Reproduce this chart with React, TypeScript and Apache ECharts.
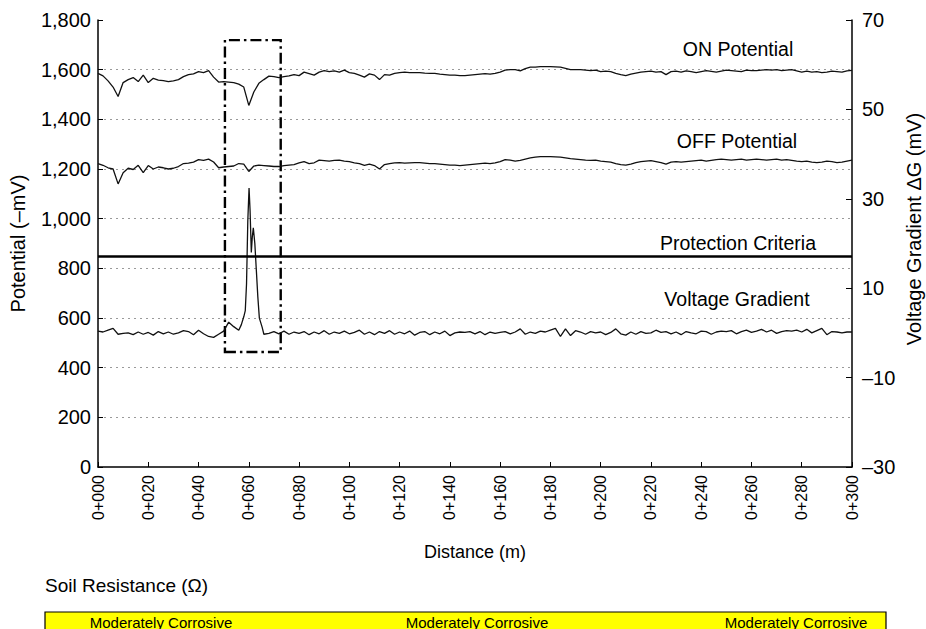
import React, { useEffect, useRef } from "react";
import * as echarts from "echarts";

// Survey stations along the pipeline, every 2 m from 0+000 to 0+300
const STATION_STEP_M = 2;
const DISTANCE_M: number[] = Array.from({ length: 151 }, (_, i) => i * STATION_STEP_M);

// ON potential (–mV) at each station
const ON_POTENTIAL = [
  1585, 1575, 1555, 1530, 1492, 1548, 1560, 1568, 1552, 1578,
  1548, 1565, 1558, 1556, 1552, 1555, 1560, 1572, 1580, 1583,
  1592, 1588, 1596, 1570, 1550, 1552, 1550, 1548, 1542, 1530,
  1456, 1510, 1545, 1560, 1574, 1572, 1568, 1572, 1575, 1580,
  1576, 1590, 1584, 1578, 1590, 1596, 1592, 1595, 1590, 1598,
  1588, 1585, 1578, 1570, 1583, 1578, 1560, 1580, 1578, 1585,
  1588, 1590, 1588, 1588, 1588, 1586, 1585, 1585, 1582, 1580,
  1578, 1578, 1576, 1576, 1578, 1580, 1582, 1584, 1582, 1585,
  1590, 1598, 1600, 1600, 1595, 1604, 1610, 1610, 1612, 1612,
  1612, 1611, 1610, 1605, 1600, 1600, 1600, 1598, 1596, 1598,
  1592, 1594, 1592, 1585, 1580, 1576, 1582, 1586, 1590, 1592,
  1594, 1590, 1592, 1580, 1592, 1594, 1590, 1595, 1592, 1588,
  1592, 1596, 1593, 1590, 1594, 1598, 1596, 1594, 1592, 1598,
  1596, 1596, 1598, 1600, 1598, 1600, 1596, 1598, 1600, 1595,
  1590, 1594, 1590, 1592, 1588, 1590, 1594, 1592, 1590, 1595,
  1597,
];

// OFF (instant-off) potential (–mV) at each station
const OFF_POTENTIAL = [
  1222, 1215, 1205, 1200, 1140, 1185, 1203, 1198, 1215, 1185,
  1214, 1200, 1208, 1205, 1200, 1203, 1210, 1222, 1224, 1228,
  1238, 1235, 1240, 1228, 1205, 1208, 1210, 1212, 1222, 1220,
  1190, 1212, 1216, 1214, 1212, 1210, 1210, 1214, 1216, 1218,
  1225, 1230, 1222, 1225, 1236, 1234, 1232, 1235, 1236, 1232,
  1230, 1225, 1222, 1215, 1220, 1214, 1200, 1218, 1222, 1225,
  1226, 1224, 1225, 1226, 1226, 1224, 1222, 1222, 1220, 1218,
  1216, 1216, 1214, 1216, 1218, 1220, 1222, 1224, 1222, 1225,
  1230, 1238, 1236, 1232, 1235, 1240, 1245, 1248, 1250, 1250,
  1250, 1249, 1248, 1245, 1242, 1240, 1238, 1236, 1235, 1236,
  1232, 1230, 1228, 1222, 1218, 1216, 1220, 1226, 1230, 1232,
  1234, 1230, 1226, 1220, 1228, 1230, 1228, 1230, 1232, 1234,
  1236, 1232, 1235, 1238, 1240, 1238, 1236, 1238, 1240, 1236,
  1238, 1240, 1238, 1236, 1238, 1240, 1236, 1238, 1235, 1232,
  1230, 1232, 1228, 1226, 1228, 1232, 1230, 1226, 1228, 1232,
  1236,
];

// Voltage gradient ΔG (mV) at each station; the coating-defect stations
// are sampled more finely below
const VOLTAGE_GRADIENT: (number | null)[] = [
  0.4, 0.2, 0.6, 1.0, -0.3, -0.1, 0.0, -0.4, 0.2, -0.3,
  0.1, -0.5, 0.3, -0.2, 0.2, -0.3, 0.0, 0.5, 0.3, -0.4,
  0.6, -0.2, -0.8, -1.0, -0.3, 0.4, 2.4, 1.4, 0.6, null,
  null, null, null, -0.3, -0.1, 0.3, -0.2, 0.4, -0.3, 0.2,
  -0.1, 0.3, -0.4, 0.2, -0.2, 0.5, -0.3, 0.2, -0.1, 0.4,
  -0.2, 0.1, 0.6, -0.3, 0.2, -0.4, 0.3, -0.1, 0.5, -0.3,
  0.2, -0.2, 0.4, -0.5, 0.1, 0.3, -0.4, 0.2, -0.2, 0.4,
  -0.6, 0.0, 0.2, 0.1, 0.3, -0.2, 0.3, -0.4, 0.2, -0.1,
  0.1, 0.3, -0.2, 0.2, 0.9, -0.3, 0.2, -0.1, 0.4, 0.2,
  0.6, 1.0, -0.8, 0.9, -0.6, 0.5, 0.2, -0.3, 0.3, 0.0,
  0.2, -0.4, 0.1, 0.9, -0.2, -0.5, 0.2, -0.3, 0.3, -0.1,
  0.0, 0.6, 0.1, 0.3, -0.2, 0.2, -0.4, 0.3, 0.0, -0.2,
  0.4, 0.3, -0.3, 0.2, 0.4, 0.3, 0.5, -0.2, 0.3, 0.6,
  0.1, 0.4, 0.8, 0.2, 0.6, -0.1, 0.3, 0.5, 0.4, 0.6,
  0.2, 0.8, 0.0, 0.5, 1.0, -0.4, 0.3, 0.2, 0.0, 0.2,
  0.2,
];

// Close-interval readings across the defect indication
const DEFECT_DISTANCE_M = [57, 58, 58.6, 59.1, 59.6, 60.1, 60.5, 61.0, 61.4, 61.8, 62.4, 63.0, 63.6, 64.2, 65.3];
const DEFECT_GRADIENT = [1.8, 3.6, 5.0, 11.0, 25.0, 32.4, 27.5, 18.0, 21.5, 23.5, 20.0, 14.0, 8.0, 3.3, 1.3];

// Protection criterion (–mV)
const PROTECTION_CRITERIA = 850;

// Highlighted defect zone: distance range (m) and potential range (–mV)
const DEFECT_ZONE_M = [50.5, 72.7];
const DEFECT_ZONE_MV = [463, 1719];

// Axis ticks
const DISTANCE_TICK_STEP = 20;
const POTENTIAL_TICK_STEP = 200;
const GRADIENT_TICKS = [-30, -10, 10, 30, 50, 70];

// Soil classification strip
const SOIL_CLASSES = ["Moderately Corrosive", "Moderately Corrosive", "Moderately Corrosive"];

const FONT = "'Liberation Sans', Arial, Helvetica, sans-serif";

function buildOption(): echarts.EChartsOption {
  const onData = DISTANCE_M.map((d, i) => [d, ON_POTENTIAL[i]]);
  const offData = DISTANCE_M.map((d, i) => [d, OFF_POTENTIAL[i]]);
  const vgData: number[][] = [];
  DISTANCE_M.forEach((d, i) => {
    const v = VOLTAGE_GRADIENT[i];
    if (v !== null) vgData.push([d, v]);
  });
  DEFECT_DISTANCE_M.forEach((d, i) => vgData.push([d, DEFECT_GRADIENT[i]]));
  vgData.sort((a, b) => a[0] - b[0]);

  const lineStyle = { color: "#111", width: 1.3 };

  const soilX = [161, 477, 796];
  const labelStyle = (text: string, size: number, align = "center") => ({
    text,
    font: `${size}px ${FONT}`,
    fill: "#000",
    textAlign: align,
    textVerticalAlign: "middle",
  });

  return {
    animation: false,
    backgroundColor: "#fff",
    textStyle: { fontFamily: FONT, color: "#000" },
    grid: { left: 98, right: 74, top: 20, bottom: 162 },
    xAxis: {
      type: "value",
      min: 0,
      max: 300,
      interval: DISTANCE_TICK_STEP,
      name: "Distance (m)",
      nameLocation: "middle",
      nameGap: 76,
      nameTextStyle: { fontSize: 18, color: "#000", fontFamily: FONT },
      axisLine: { lineStyle: { color: "#000", width: 1.5 } },
      axisTick: { inside: true, length: 5, lineStyle: { color: "#000", width: 1 } },
      axisLabel: {
        rotate: 90,
        fontSize: 16,
        color: "#000",
        margin: 8,
        fontFamily: FONT,
        formatter: (v: number) => `0+${String(v).padStart(3, "0")}`,
      },
      splitLine: { show: false },
    },
    yAxis: [
      {
        type: "value",
        min: 0,
        max: 1800,
        interval: POTENTIAL_TICK_STEP,
        name: "Potential (–mV)",
        nameLocation: "middle",
        nameGap: 70,
        nameTextStyle: { fontSize: 20, color: "#000", fontFamily: FONT },
        axisLine: { show: true, lineStyle: { color: "#000", width: 1.5 } },
        axisTick: { show: true, inside: true, length: 5, lineStyle: { color: "#000" } },
        axisLabel: {
          fontSize: 20,
          color: "#000",
          margin: 7,
          fontFamily: FONT,
          formatter: (v: number) => v.toLocaleString("en-US"),
        },
        splitLine: {
          show: true,
          showMinLine: false,
          showMaxLine: false,
          lineStyle: { color: "#9a9a9a", type: [2, 4], width: 1 },
        },
      },
      {
        type: "value",
        min: -30,
        max: 70,
        position: "right",
        axisLine: { show: true, lineStyle: { color: "#000", width: 1.5 } },
        axisTick: {
          show: true,
          inside: true,
          length: 6,
          customValues: GRADIENT_TICKS,
          lineStyle: { color: "#000" },
        },
        axisLabel: {
          fontSize: 20,
          color: "#000",
          margin: 10,
          fontFamily: FONT,
          customValues: GRADIENT_TICKS,
          formatter: (v: number) => (v < 0 ? `–${Math.abs(v)}` : `${v}`),
        },
        splitLine: { show: false },
      },
    ],
    series: [
      {
        name: "ON Potential",
        type: "line",
        yAxisIndex: 0,
        data: onData,
        showSymbol: false,
        lineStyle,
        markLine: {
          silent: true,
          symbol: "none",
          label: { show: false },
          lineStyle: { color: "#000", width: 2.6, type: "solid" },
          data: [{ yAxis: PROTECTION_CRITERIA }],
        },
        markArea: {
          silent: true,
          itemStyle: {
            color: "rgba(0,0,0,0)",
            borderColor: "#000",
            borderWidth: 2.4,
            borderType: [11, 4, 2.5, 4],
          },
          data: [
            [
              { xAxis: DEFECT_ZONE_M[0], yAxis: DEFECT_ZONE_MV[0] },
              { xAxis: DEFECT_ZONE_M[1], yAxis: DEFECT_ZONE_MV[1] },
            ],
          ],
        },
      },
      {
        name: "OFF Potential",
        type: "line",
        yAxisIndex: 0,
        data: offData,
        showSymbol: false,
        lineStyle,
      },
      {
        name: "Voltage Gradient",
        type: "line",
        yAxisIndex: 1,
        data: vgData,
        showSymbol: false,
        lineStyle,
      },
    ],
    graphic: [
      { type: "text", x: 738, y: 49, style: labelStyle("ON Potential", 19.5) },
      { type: "text", x: 737, y: 141, style: labelStyle("OFF Potential", 19.5) },
      { type: "text", x: 738, y: 243, style: labelStyle("Protection Criteria", 19.5) },
      { type: "text", x: 737, y: 299, style: labelStyle("Voltage Gradient", 19.5) },
      {
        type: "text",
        x: 914,
        y: 229,
        rotation: Math.PI / 2,
        style: labelStyle("Voltage Gradient ΔG (mV)", 20),
      },
      { type: "text", x: 45, y: 585, style: labelStyle("Soil Resistance (Ω)", 19, "left") },
      {
        type: "rect",
        shape: { x: 45, y: 612, width: 841, height: 22 },
        style: { fill: "#ffff00", stroke: "#000", lineWidth: 1.2 },
      },
      ...SOIL_CLASSES.map((t, i) => ({
        type: "text" as const,
        x: soilX[i],
        y: 622,
        style: labelStyle(t, 15),
      })),
    ],
  } as echarts.EChartsOption;
}

export default function App() {
  const ref = useRef<HTMLDivElement>(null);
  useEffect(() => {
    document.body.style.margin = "0";
    const chart = echarts.init(ref.current!, null, { renderer: "svg" });
    chart.setOption(buildOption());
    return () => chart.dispose();
  }, []);
  return <div ref={ref} style={{ width: 926, height: 629 }} />;
}
